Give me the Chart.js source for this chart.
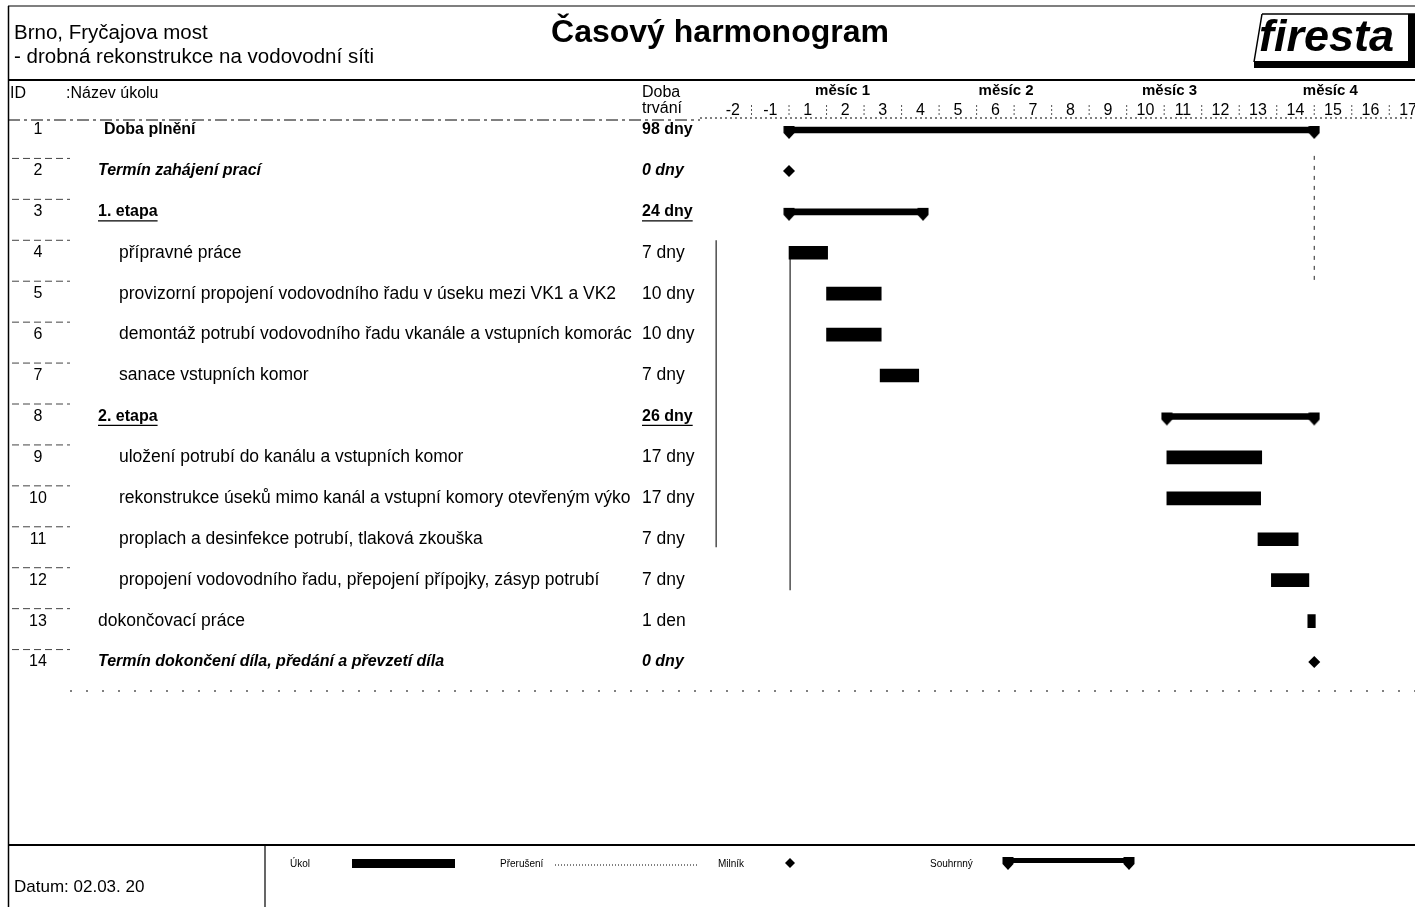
<!DOCTYPE html>
<html lang="cs">
<head>
<meta charset="utf-8">
<title>Časový harmonogram</title>
<script src="https://cdn.jsdelivr.net/npm/chart.js@4.4.1/dist/chart.umd.min.js"></script>
<style>
  html, body { margin: 0; padding: 0; background: #fff; }
  #wrap { width: 1415px; height: 907px; }
</style>
</head>
<body>
<div id="wrap"><canvas id="gantt" width="1415" height="907"></canvas></div>
<script>
// údaje harmonogramu
const taskIds = ['1', '2', '3', '4', '5', '6', '7', '8', '9', '10', '11', '12', '13', '14'];
const taskNames = [
  'Doba plnění',
  'Termín zahájení prací',
  '1. etapa',
  'přípravné práce',
  'provizorní propojení vodovodního řadu v úseku mezi VK1 a VK2',
  'demontáž potrubí vodovodního řadu vkanále a vstupních komorác',
  'sanace vstupních komor',
  '2. etapa',
  'uložení potrubí do kanálu a vstupních komor',
  'rekonstrukce úseků mimo kanál a vstupní komory otevřeným výko',
  'proplach a desinfekce potrubí, tlaková zkouška',
  'propojení vodovodního řadu, přepojení přípojky, zásyp potrubí',
  'dokončovací práce',
  'Termín dokončení díla, předání a převzetí díla'
];
const taskDurations = ['98 dny', '0 dny', '24 dny', '7 dny', '10 dny', '10 dny', '7 dny',
  '26 dny', '17 dny', '17 dny', '7 dny', '7 dny', '1 den', '0 dny'];
const taskKinds = ['summary', 'milestone', 'summary', 'task', 'task', 'task', 'task',
  'summary', 'task', 'task', 'task', 'task', 'task', 'milestone'];
const outlineLevels = [1, 2, 2, 3, 3, 3, 3, 2, 3, 3, 3, 3, 2, 2];
// začátek a konec v dnech od zahájení
const startDays = [0, 0, 0, 0, 7, 7, 17, 70.5, 70.5, 70.5, 87.5, 90, 96.8, 98];
const endDays = [98, 0, 25, 7.2, 17.2, 17.2, 24.2, 98, 88.2, 88, 95, 97, 98.2, 98];

const weekLabels = ['-2', '-1', '1', '2', '3', '4', '5', '6', '7', '8', '9', '10',
  '11', '12', '13', '14', '15', '16', '17'];
const monthLabels = ['měsíc 1', 'měsíc 2', 'měsíc 3', 'měsíc 4'];
const monthCenters = [10, 40.5, 71, 101];

const FONT = '"Liberation Sans", Arial, sans-serif';

function rowsOf(kind) {
  return taskIds.map((id, i) => i).filter((i) => taskKinds[i] === kind);
}

// koncovka souhrnného pruhu
function drawCap(ctx, cx, cy) {
  ctx.beginPath();
  ctx.moveTo(cx - 5.5, cy - 4);
  ctx.lineTo(cx + 5.5, cy - 4);
  ctx.lineTo(cx + 5.5, cy + 3);
  ctx.lineTo(cx, cy + 9);
  ctx.lineTo(cx - 5.5, cy + 3);
  ctx.closePath();
  ctx.fill();
}

function makeCapImage() {
  const c = document.createElement('canvas');
  c.width = 12;
  c.height = 24;
  const g = c.getContext('2d');
  g.fillStyle = '#000';
  drawCap(g, 6, 12);
  return c;
}

function hline(ctx, x1, x2, y, width, dash) {
  ctx.save();
  ctx.lineWidth = width;
  ctx.setLineDash(dash || []);
  ctx.beginPath();
  ctx.moveTo(x1, y);
  ctx.lineTo(x2, y);
  ctx.stroke();
  ctx.restore();
}

function vline(ctx, x, y1, y2, width, dash) {
  ctx.save();
  ctx.lineWidth = width;
  ctx.setLineDash(dash || []);
  ctx.beginPath();
  ctx.moveTo(x, y1);
  ctx.lineTo(x, y2);
  ctx.stroke();
  ctx.restore();
}

function rowFont(i) {
  if (taskKinds[i] === 'milestone') return 'italic bold 16px ' + FONT;
  if (taskKinds[i] === 'summary') return 'bold 16px ' + FONT;
  return '17.5px ' + FONT;
}

function textWithUnderline(ctx, text, x, y, underline) {
  ctx.fillText(text, x, y);
  if (underline) {
    const w = ctx.measureText(text).width;
    hline(ctx, x, x + w, y + 9, 1.3);
  }
}

const harmonogramPlugin = {
  id: 'harmonogram',
  beforeDraw(chart) {
    const ctx = chart.ctx;
    ctx.save();
    ctx.fillStyle = '#fff';
    ctx.fillRect(0, 0, chart.width, chart.height);
    ctx.restore();
  },
  beforeDatasetsDraw(chart) {
    const { ctx, scales: { x, y } } = chart;
    const half = (y.getPixelForValue(1) - y.getPixelForValue(0)) / 2;
    ctx.save();
    ctx.strokeStyle = '#222';
    // svislé čáry ze skenu
    vline(ctx, x.getPixelForValue(-13.6), y.getPixelForValue(3) - half + 8, y.getPixelForValue(10) + 8, 1.2);
    vline(ctx, x.getPixelForValue(0.2), y.getPixelForValue(3), y.getPixelForValue(11) + 10, 1.2);
    vline(ctx, x.getPixelForValue(98), y.getPixelForValue(1) - 15, y.getPixelForValue(3) + 30, 1, [4, 6]);
    ctx.restore();
  },
  afterDraw(chart) {
    const { ctx, scales: { x, y } } = chart;
    const half = (y.getPixelForValue(1) - y.getPixelForValue(0)) / 2;
    ctx.save();
    ctx.fillStyle = '#000';
    ctx.strokeStyle = '#000';

    // rámeček a hlavička
    hline(ctx, 8, 1415, 6, 1.2);
    vline(ctx, 8.5, 6, 907, 1.5);
    hline(ctx, 8, 1415, 80, 2);

    ctx.textBaseline = 'middle';
    ctx.textAlign = 'left';
    ctx.font = '20.5px ' + FONT;
    ctx.fillText('Brno, Fryčajova most', 14, 33);
    ctx.fillText('- drobná rekonstrukce na vodovodní síti', 14, 57);

    ctx.textAlign = 'center';
    ctx.font = 'bold 32px ' + FONT;
    ctx.fillText('Časový harmonogram', 720, 33);

    // logo
    ctx.save();
    ctx.lineWidth = 1.5;
    ctx.beginPath();
    ctx.moveTo(1262, 14);
    ctx.lineTo(1415, 14);
    ctx.moveTo(1262, 14);
    ctx.lineTo(1254, 62);
    ctx.stroke();
    ctx.fillRect(1254, 61, 161, 7);
    ctx.fillRect(1408, 14, 7, 50);
    ctx.textAlign = 'left';
    ctx.font = 'italic bold 45px ' + FONT;
    ctx.fillText('firesta', 1259, 39);
    ctx.restore();

    // záhlaví tabulky
    ctx.textAlign = 'left';
    ctx.font = '16px ' + FONT;
    ctx.fillText('ID', 10, 94);
    ctx.fillText(':Název úkolu', 66, 94);
    ctx.fillText('Doba', 642, 93);
    ctx.fillText('trvání', 642, 109);
    hline(ctx, 8, 700, 120, 1, [12, 4, 3, 4]);
    hline(ctx, 700, 1415, 118, 1, [2, 3]);

    ctx.textAlign = 'center';
    ctx.font = 'bold 15px ' + FONT;
    monthLabels.forEach((m, i) => ctx.fillText(m, x.getPixelForValue(monthCenters[i]), 91));

    // oddělovače týdnů
    ctx.save();
    ctx.strokeStyle = '#555';
    for (let w = -7; w <= 112; w += 7) {
      vline(ctx, x.getPixelForValue(w), 105, 116, 1, [2, 2]);
    }
    ctx.restore();

    // řádky tabulky
    taskIds.forEach((id, i) => {
      const py = y.getPixelForValue(i);
      const kind = taskKinds[i];
      const level = outlineLevels[i];
      const underline = kind === 'summary' && level === 2;
      ctx.font = '16px ' + FONT;
      ctx.textAlign = 'center';
      ctx.fillText(id, 38, py);

      ctx.textAlign = 'left';
      ctx.font = rowFont(i);
      const nx = level === 3 ? 119 : (level === 1 ? 104 : 98);
      ctx.save();
      ctx.beginPath();
      ctx.rect(0, py - 15, 640, 30);
      ctx.clip();
      textWithUnderline(ctx, taskNames[i], nx, py, underline);
      ctx.restore();
      textWithUnderline(ctx, taskDurations[i], 642, py, underline);

      if (i > 0) {
        ctx.save();
        ctx.strokeStyle = '#444';
        hline(ctx, 12, 70, py - half + 8, 1, [7, 4]);
        ctx.restore();
      }
    });
    hline(ctx, 70, 1415, 691, 1, [2, 14]);

    // zápatí
    hline(ctx, 8, 1415, 845, 2);
    vline(ctx, 265, 846, 907, 1.2);
    ctx.textAlign = 'left';
    ctx.font = '17px ' + FONT;
    ctx.fillText('Datum: 02.03. 20', 14, 887);

    // legenda
    ctx.font = '10px ' + FONT;
    ctx.fillText('Úkol', 290, 864);
    ctx.fillRect(352, 859, 103, 9);
    ctx.fillText('Přerušení', 500, 864);
    hline(ctx, 555, 697, 865, 1, [1, 2]);
    ctx.fillText('Milník', 718, 864);
    ctx.beginPath();
    ctx.moveTo(790, 858);
    ctx.lineTo(795, 863);
    ctx.lineTo(790, 868);
    ctx.lineTo(785, 863);
    ctx.closePath();
    ctx.fill();
    ctx.fillText('Souhrnný', 930, 864);
    ctx.fillRect(1005, 858, 126, 5);
    drawCap(ctx, 1008, 861);
    drawCap(ctx, 1129, 861);
    ctx.restore();
  }
};

const taskRows = rowsOf('task');
const summaryRows = rowsOf('summary');
const milestoneRows = rowsOf('milestone');

new Chart(document.getElementById('gantt'), {
  type: 'bar',
  data: {
    labels: taskIds,
    datasets: [
      {
        label: 'Úkol',
        data: taskRows.map((i) => ({ y: taskIds[i], x: [startDays[i], endDays[i]] })),
        backgroundColor: '#000',
        barThickness: 13,
        grouped: false
      },
      {
        label: 'Souhrnný',
        data: summaryRows.map((i) => ({ y: taskIds[i], x: [startDays[i], endDays[i]] })),
        backgroundColor: '#000',
        barThickness: 6,
        grouped: false
      },
      {
        type: 'scatter',
        label: 'Souhrnný konce',
        data: summaryRows.flatMap((i) => [
          { x: startDays[i], y: taskIds[i] },
          { x: endDays[i], y: taskIds[i] }
        ]),
        pointStyle: makeCapImage(),
        pointRadius: 6
      },
      {
        type: 'scatter',
        label: 'Milník',
        data: milestoneRows.map((i) => ({ x: startDays[i], y: taskIds[i] })),
        pointStyle: 'rectRot',
        pointRadius: 6,
        backgroundColor: '#000',
        borderWidth: 0
      }
    ]
  },
  options: {
    indexAxis: 'y',
    responsive: false,
    animation: false,
    events: [],
    layout: { autoPadding: false, padding: { left: 714, top: 87.5, right: 0, bottom: 224.5 } },
    scales: {
      x: {
        type: 'linear',
        position: 'top',
        min: -14,
        max: 116.8,
        grid: { display: false },
        border: { display: false },
        afterBuildTicks: (scale) => {
          scale.ticks = weekLabels.map((w, i) => ({ value: -10.5 + 7 * i }));
        },
        afterFit: (scale) => {
          scale.height = 22;
          scale.paddingLeft = 0;
          scale.paddingRight = 0;
        },
        ticks: {
          mirror: true,
          autoSkip: false,
          maxRotation: 0,
          padding: -9,
          color: '#000',
          font: { family: FONT, size: 16 },
          callback: (value, index) => weekLabels[index]
        }
      },
      y: {
        type: 'category',
        display: false,
        offset: true
      }
    },
    plugins: {
      legend: { display: false },
      tooltip: { enabled: false }
    }
  },
  plugins: [harmonogramPlugin]
});
</script>
</body>
</html>
